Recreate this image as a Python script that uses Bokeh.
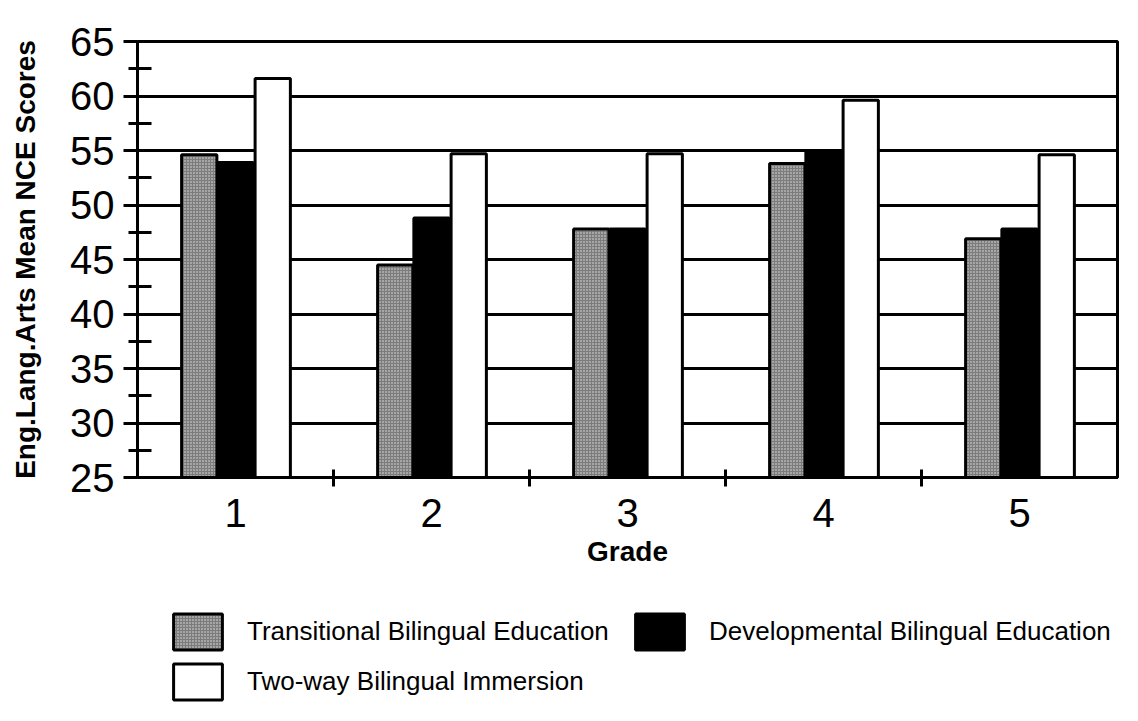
from bokeh.plotting import figure
from bokeh.layouts import column
from bokeh.models import ColumnDataSource, Legend, LegendItem, FixedTicker, Range1d
from bokeh.transform import dodge
from bokeh.embed import file_html
from bokeh.resources import INLINE

# ---- data ----
grades = ["1", "2", "3", "4", "5"]
transitional = [54.6, 44.5, 47.8, 53.8, 46.9]
developmental = [53.9, 48.8, 47.8, 54.9, 47.8]
two_way = [61.6, 54.7, 54.7, 59.6, 54.6]
series_names = ["Transitional Bilingual Education",
                "Developmental Bilingual Education",
                "Two-way Bilingual Immersion"]
y_ticks = [25, 30, 35, 40, 45, 50, 55, 60, 65]

FONT = "Liberation Sans"

# series styles
styles = [
    dict(fill_color="#7c7c7c", hatch_pattern="dot", hatch_color="#e6e6e6",
         hatch_scale=3, hatch_weight=1.2),
    dict(fill_color="black"),
    dict(fill_color="white"),
]
outline = dict(line_color="black", line_width=3)

x = list(range(1, len(grades) + 1))
src = ColumnDataSource(dict(x=x, tbe=transitional, dbe=developmental, twi=two_way))

p = figure(width=1122, height=582, output_backend="svg", toolbar_location=None,
           x_range=Range1d(0.5, len(grades) + 0.5),
           y_range=Range1d(y_ticks[0], y_ticks[-1]),
           min_border_left=137, min_border_right=5, min_border_top=41,
           min_border_bottom=105)
p.background_fill_color = "white"
p.border_fill_color = "white"
p.outline_line_color = "black"
p.outline_line_width = 3

bw = 0.18
offsets = [-0.185, 0.0, 0.19]
cols = ["tbe", "dbe", "twi"]
for off, col, st in zip(offsets, cols, styles):
    p.vbar(x=dodge("x", off, range=p.x_range), top=col, bottom=y_ticks[0],
           width=bw, source=src, **st, **outline)

# y axis
p.yaxis.ticker = FixedTicker(ticks=y_ticks,
                             minor_ticks=[t + 2.5 for t in y_ticks[:-1]])
p.yaxis.axis_label = "Eng.Lang.Arts Mean NCE Scores"
p.yaxis.axis_label_text_font = FONT
p.yaxis.axis_label_text_font_style = "bold"
p.yaxis.axis_label_text_font_size = "28px"
p.yaxis.axis_label_text_color = "black"
p.yaxis.axis_label_standoff = 26
p.yaxis.major_label_text_font = FONT
p.yaxis.major_label_text_font_size = "40px"
p.yaxis.major_label_text_color = "black"
p.yaxis.major_label_standoff = 9
p.yaxis.axis_line_width = 3
p.yaxis.axis_line_color = "black"
p.yaxis.major_tick_line_width = 3
p.yaxis.major_tick_line_color = "black"
p.yaxis.major_tick_out = 14
p.yaxis.major_tick_in = 0
p.yaxis.minor_tick_line_width = 3
p.yaxis.minor_tick_line_color = "black"
p.yaxis.minor_tick_in = 14
p.yaxis.minor_tick_out = 9

# x axis
p.xaxis.ticker = FixedTicker(ticks=x, minor_ticks=[v + 0.5 for v in x[:-1]])
p.xaxis.major_label_overrides = {v: g for v, g in zip(x, grades)}
p.xaxis.axis_label = "Grade"
p.xaxis.axis_label_text_font = FONT
p.xaxis.axis_label_text_font_style = "bold"
p.xaxis.axis_label_text_font_size = "28px"
p.xaxis.axis_label_text_color = "black"
p.xaxis.axis_label_standoff = 6
p.xaxis.major_label_text_font = FONT
p.xaxis.major_label_text_font_size = "40px"
p.xaxis.major_label_text_color = "black"
p.xaxis.major_label_standoff = 12
p.xaxis.axis_line_width = 3
p.xaxis.axis_line_color = "black"
p.xaxis.major_tick_in = 0
p.xaxis.major_tick_out = 0
p.xaxis.minor_tick_line_width = 3
p.xaxis.minor_tick_line_color = "black"
p.xaxis.minor_tick_in = 8
p.xaxis.minor_tick_out = 9

p.xgrid.visible = False
p.ygrid.grid_line_color = "black"
p.ygrid.grid_line_width = 3

# ---- legend strip below the chart ----
# legend-only renderers share the bar styles but are hidden (legend still shows them)
lg_h = 123
q = figure(width=1122, height=lg_h, output_backend="svg", toolbar_location=None,
           x_range=Range1d(0.5, len(grades) + 0.5), y_range=Range1d(0, 1),
           x_axis_type=None, y_axis_type=None,
           min_border_left=0, min_border_right=0, min_border_top=0,
           min_border_bottom=0)
q.outline_line_color = None
q.background_fill_color = "white"
q.border_fill_color = "white"
q.xgrid.visible = False
q.ygrid.visible = False
items = []
for name, off, col, st in zip(series_names, offsets, cols, styles):
    r = q.vbar(x=dodge("x", off, range=q.x_range), top=col, bottom=y_ticks[0],
               width=bw, source=src, visible=False, **st, **outline)
    items.append(LegendItem(label=name, renderers=[r]))

legend = Legend(items=items, location=(30, 1), orientation="horizontal", ncols=2,
                glyph_width=61, glyph_height=45, label_standoff=19,
                label_width=377, spacing=5, padding=0, margin=0,
                border_line_alpha=0, background_fill_alpha=0,
                inactive_fill_alpha=0,
                label_text_font=FONT, label_text_font_size="26px",
                label_text_color="black")
q.add_layout(legend)

layout = column(p, q, spacing=0)
open("out.html", "w").write(file_html(layout, INLINE))
